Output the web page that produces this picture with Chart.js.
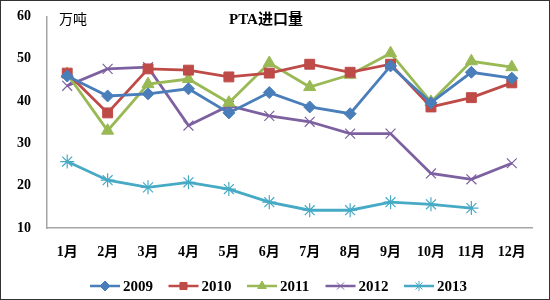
<!DOCTYPE html>
<html>
<head>
<meta charset="utf-8">
<script src="https://cdn.jsdelivr.net/npm/chart.js@4"></script>
<style>
  body { margin: 0; background: #fff; }
  #wrap { width: 550px; height: 300px; }
</style>
</head>
<body>
<div id="wrap"><canvas id="c" width="550" height="300"></canvas></div>
<script>
const months = ["1月", "2月", "3月", "4月", "5月", "6月", "7月", "8月", "9月", "10月", "11月", "12月"];
const years = ["2009", "2010", "2011", "2012", "2013"];
const v2009 = [45.9, 41.2, 41.7, 42.9, 37.2, 42.0, 38.6, 37.0, 48.3, 39.6, 46.8, 45.4];
const v2010 = [46.6, 37.2, 47.6, 47.3, 45.7, 46.6, 48.7, 46.8, 48.7, 38.6, 40.8, 44.3];
const v2011 = [46.4, 33.0, 44.0, 45.2, 39.6, 49.0, 43.3, 46.2, 51.3, 39.8, 49.4, 48.0];
const v2012 = [43.6, 47.6, 48.0, 34.2, 38.9, 36.5, 35.1, 32.3, 32.3, 22.9, 21.5, 25.3];
const v2013 = [25.7, 21.3, 19.6, 20.8, 19.2, 16.1, 14.2, 14.2, 16.1, 15.6, 14.7, null];
const yTicks = [10, 20, 30, 40, 50, 60];

const colors = ["#4a7ebb", "#be4b48", "#98b954", "#7d60a0", "#46aac5"];
const styles = ["rectRot", "rect", "triangle", "crossRot", "star"];
const radii = [6, 7, 7, 7, 7];
const values = [v2009, v2010, v2011, v2012, v2013];

const serif = '"Liberation Serif", "Noto Sans CJK SC", serif';

// 标题、单位、图例和外框
const decor = {
  id: "decor",
  afterDraw(chart) {
    const ctx = chart.ctx;
    ctx.save();
    ctx.fillStyle = "#000";
    ctx.textBaseline = "middle";
    ctx.textAlign = "left";
    ctx.font = "14px " + serif;
    ctx.fillText("万吨", 59, 20);
    ctx.font = "bold 15px " + serif;
    ctx.fillText("PTA进口量", 229, 20);

    // 图例
    const y = 286;
    ctx.font = "bold 15px " + serif;
    chart.data.datasets.forEach((ds, i) => {
      const x = 90 + i * 78.5;
      ctx.strokeStyle = ds.borderColor;
      ctx.fillStyle = ds.borderColor;
      ctx.lineWidth = 2.5;
      ctx.beginPath();
      ctx.moveTo(x, y);
      ctx.lineTo(x + 30, y);
      ctx.stroke();
      ctx.lineWidth = 1;
      Chart.helpers.drawPoint(ctx, {
        pointStyle: ds.pointStyle,
        radius: 5,
        rotation: 0,
        borderWidth: 1
      }, x + 15, y);
      ctx.fillStyle = "#000";
      ctx.fillText(ds.label, x + 33, y + 1);
    });

    ctx.strokeStyle = "#333";
    ctx.lineWidth = 1;
    ctx.strokeRect(0.5, 0.5, chart.width - 1, chart.height - 1);
    ctx.restore();
  }
};

const datasets = years.map((y, i) => ({
  label: y,
  data: values[i],
  borderColor: colors[i],
  backgroundColor: colors[i],
  pointStyle: styles[i],
  pointRadius: radii[i],
  pointBorderWidth: i >= 3 ? 1.2 : 1,
  pointBorderColor: colors[i],
  pointBackgroundColor: colors[i],
  borderWidth: 2.8,
  tension: 0,
  spanGaps: false
}));

new Chart(document.getElementById("c"), {
  type: "line",
  data: { labels: months, datasets: datasets },
  options: {
    responsive: false,
    animation: false,
    layout: { padding: { left: 0, right: 18, top: 15, bottom: 0 } },
    plugins: {
      legend: { display: false },
      tooltip: { enabled: false }
    },
    scales: {
      x: {
        offset: true,
        grid: { display: false },
        border: { display: true, color: "#a6a6a6", width: 1.5 },
        ticks: {
          color: "#000",
          font: { family: serif, size: 14, weight: "bold" },
          padding: 8,
          maxRotation: 0,
          autoSkip: false
        },
        afterFit(scale) { scale.height = 72; }
      },
      y: {
        min: 10,
        max: 60,
        grid: { display: false },
        border: { display: true, color: "#a6a6a6", width: 1.5 },
        afterBuildTicks(scale) { scale.ticks = yTicks.map(v => ({ value: v })); },
        ticks: {
          color: "#000",
          font: { family: serif, size: 14, weight: "bold" },
          padding: 8
        },
        afterFit(scale) { scale.width = 47; }
      }
    }
  },
  plugins: [decor]
});
</script>
</body>
</html>
